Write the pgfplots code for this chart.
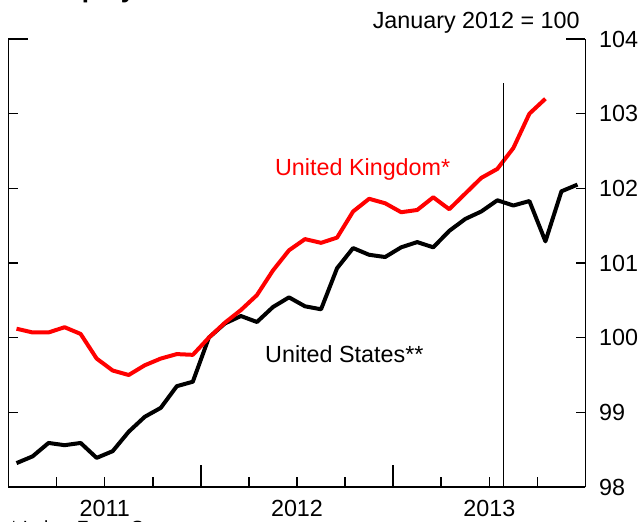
\documentclass[border=0pt]{standalone}
\usepackage{pgfplots}
\pgfplotsset{compat=1.18}
\usepackage{fontspec}
\setmainfont{Liberation Sans}
\pgfplotstableread{
x y
0.5 98.32
1.5 98.41
2.5 98.59
3.5 98.56
4.5 98.59
5.5 98.39
6.5 98.48
7.5 98.74
8.5 98.94
9.5 99.06
10.5 99.35
11.5 99.41
12.5 100.00
13.5 100.19
14.5 100.29
15.5 100.21
16.5 100.41
17.5 100.54
18.5 100.42
19.5 100.38
20.5 100.93
21.5 101.20
22.5 101.11
23.5 101.08
24.5 101.21
25.5 101.28
26.5 101.21
27.5 101.43
28.5 101.59
29.5 101.69
30.5 101.84
31.5 101.77
32.5 101.83
33.5 101.29
34.5 101.96
35.5 102.05
}\us
\pgfplotstableread{
x y
0.5 100.12
1.5 100.07
2.5 100.07
3.5 100.14
4.5 100.05
5.5 99.72
6.5 99.56
7.5 99.50
8.5 99.63
9.5 99.72
10.5 99.78
11.5 99.77
12.5 100.00
13.5 100.20
14.5 100.37
15.5 100.57
16.5 100.90
17.5 101.17
18.5 101.32
19.5 101.27
20.5 101.34
21.5 101.69
22.5 101.86
23.5 101.80
24.5 101.68
25.5 101.71
26.5 101.88
27.5 101.72
28.5 101.93
29.5 102.14
30.5 102.26
31.5 102.54
32.5 103.00
33.5 103.20
}\uk
\begin{document}
\begin{tikzpicture}[x=1pt,y=1pt]
\useasboundingbox (-6.375,-26.25) rectangle (473.625,365.25);
\begin{axis}[
  at={(0,0)}, anchor=south west, scale only axis,
  width=432.75pt, height=336pt,
  xmin=0, xmax=36, ymin=98, ymax=104,
  axis x line*=bottom,
  axis line style={line width=1.2pt},
  tick align=inside,
  every tick/.style={black, line width=1.2pt},
  xtick={0,12,24,36}, xticklabels={2011,2012,2013},
  x tick label as interval,
  minor x tick num=3,
  major tick length=6.75pt, minor tick length=7.5pt,
  extra x ticks={12,24}, extra x tick labels={},
  extra x tick style={major tick length=16.5pt},
  ytick={98,99,...,104}, yticklabel pos=right,
  extra y ticks={104}, extra y tick labels={},
  extra y tick style={major tick length=14.25pt},
  /pgf/number format/assume math mode=true,
  tick label style={font=\fontsize{17.5}{21}\selectfont, inner sep=0pt},
  xticklabel style={anchor=north, yshift=-9.75pt},
  yticklabel style={anchor=west, xshift=10pt},
  clip=false,
]
\addplot[black, line width=3pt, line join=round] table[x=x,y=y]{\us};
\addplot[red, line width=3pt, line join=round] table[x=x,y=y]{\uk};
\addplot[black, line width=1pt] coordinates {(30.9,98) (30.9,103.41)};
\node[anchor=base west, inner sep=0pt, text=red, font=\fontsize{17.5}{21}\selectfont] at (axis cs:16.62,102.175) {United Kingdom*};
\node[anchor=base west, inner sep=0pt, text=black, font=\fontsize{17.5}{21}\selectfont] at (axis cs:16.0,99.674) {United States**};
\end{axis}
\node[anchor=base east, inner sep=0pt, font=\fontsize{17.5}{21}\selectfont] at (428.6,343.8) {January 2012 = 100};
\node[anchor=base west, inner sep=0pt, font=\fontsize{19.5}{23}\selectfont\bfseries] at (24.4,366.75) {Employment};
\node[anchor=base west, inner sep=0pt, font=\fontsize{14.3}{17}\selectfont] at (1.1,-35.5) {* Labor Force Survey.};
\end{tikzpicture}
\end{document}
